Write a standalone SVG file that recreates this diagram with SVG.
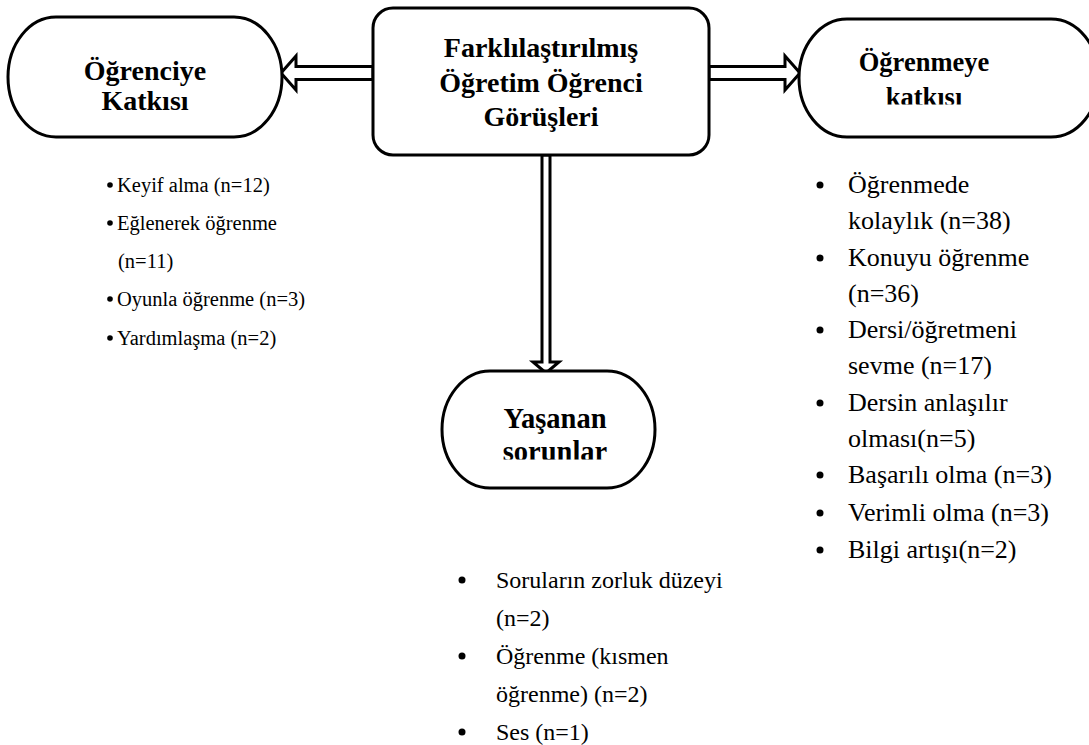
<svg xmlns="http://www.w3.org/2000/svg" width="1089" height="745" viewBox="0 0 1089 745">
<style>
.box{fill:#fff;stroke:#000;stroke-width:3}
.arr{fill:#fff;stroke:#000;stroke-width:3;stroke-linejoin:miter}
text{font-family:'Liberation Serif','Times New Roman',serif;fill:#000}
.h{font-weight:bold;font-size:28px;text-anchor:middle}
.l{font-size:20.5px}
.r{font-size:26px}
.b{font-size:24px}
</style>
<defs>
<clipPath id="clipR"><rect x="790" y="0" width="299" height="104.5"/></clipPath>
<clipPath id="clipY"><rect x="430" y="360" width="240" height="99.5"/></clipPath>
</defs>
<g id="connectors">
<polygon class="arr" points="373,66.5 296,66.5 296,56 281,73 296,90 296,79.5 373,79.5"/>
<polygon class="arr" points="709,66.5 785,66.5 785,56 800,73 785,90 785,79.5 709,79.5"/>
<polygon class="arr" points="542,155 542,362 533,362 546,373 559,362 550,362 550,155"/>
</g>
<g id="node-ogrenciye">
<rect class="box" x="8" y="17" width="274" height="120" rx="48" ry="60"/>
<text class="h" x="145" y="80">Öğrenciye</text>
<text class="h" x="145" y="110">Katkısı</text>
</g>
<g id="node-center">
<rect class="box" x="373" y="8" width="336" height="147" rx="20" ry="20"/>
<text class="h" x="541" y="57">Farklılaştırılmış</text>
<text class="h" x="541" y="92">Öğretim Öğrenci</text>
<text class="h" x="541" y="126">Görüşleri</text>
</g>
<g id="node-ogrenmeye">
<rect class="box" x="799" y="19" width="300" height="118" rx="48" ry="59"/>
<g clip-path="url(#clipR)">
<text class="h" x="924" y="71" style="font-size:26.5px">Öğrenmeye</text>
<text class="h" x="924" y="106" style="font-size:26.5px">katkısı</text>
</g>
</g>
<g id="node-yasanan">
<rect class="box" x="442" y="371" width="213" height="117" rx="48" ry="58.5"/>
<g clip-path="url(#clipY)">
<text class="h" x="555" y="428" style="font-size:28.5px">Yaşanan</text>
<text class="h" x="555" y="461" style="font-size:28.5px">sorunlar</text>
</g>
</g>
<g id="list-left">
<circle cx="110" cy="185" r="2.8"/>
<text class="l" x="117" y="192">Keyif alma (n=12)</text>
<circle cx="110" cy="223" r="2.8"/>
<text class="l" x="117" y="230">Eğlenerek öğrenme</text>
<text class="l" x="118" y="268">(n=11)</text>
<circle cx="110" cy="299" r="2.8"/>
<text class="l" x="117" y="306">Oyunla öğrenme (n=3)</text>
<circle cx="110" cy="338" r="2.8"/>
<text class="l" x="117" y="345">Yardımlaşma (n=2)</text>
</g>
<g id="list-right">
<circle cx="820" cy="185" r="3.5"/>
<text class="r" x="848" y="193">Öğrenmede</text>
<text class="r" x="848" y="229">kolaylık (n=38)</text>
<circle cx="820" cy="258" r="3.5"/>
<text class="r" x="848" y="266">Konuyu öğrenme</text>
<text class="r" x="848" y="302">(n=36)</text>
<circle cx="820" cy="330" r="3.5"/>
<text class="r" x="848" y="338">Dersi/öğretmeni</text>
<text class="r" x="848" y="374">sevme (n=17)</text>
<circle cx="820" cy="403" r="3.5"/>
<text class="r" x="848" y="411">Dersin anlaşılır</text>
<text class="r" x="848" y="447">olması(n=5)</text>
<circle cx="820" cy="475" r="3.5"/>
<text class="r" x="848" y="483">Başarılı olma (n=3)</text>
<circle cx="820" cy="513" r="3.5"/>
<text class="r" x="848" y="521">Verimli olma (n=3)</text>
<circle cx="820" cy="550" r="3.5"/>
<text class="r" x="848" y="558">Bilgi artışı(n=2)</text>
</g>
<g id="list-bottom">
<circle cx="462" cy="580" r="3.5"/>
<text class="b" x="496" y="588">Soruların zorluk düzeyi</text>
<text class="b" x="496" y="626">(n=2)</text>
<circle cx="462" cy="656" r="3.5"/>
<text class="b" x="496" y="664">Öğrenme (kısmen</text>
<text class="b" x="496" y="702">öğrenme) (n=2)</text>
<circle cx="462" cy="732" r="3.5"/>
<text class="b" x="496" y="740">Ses (n=1)</text>
</g>
</svg>
